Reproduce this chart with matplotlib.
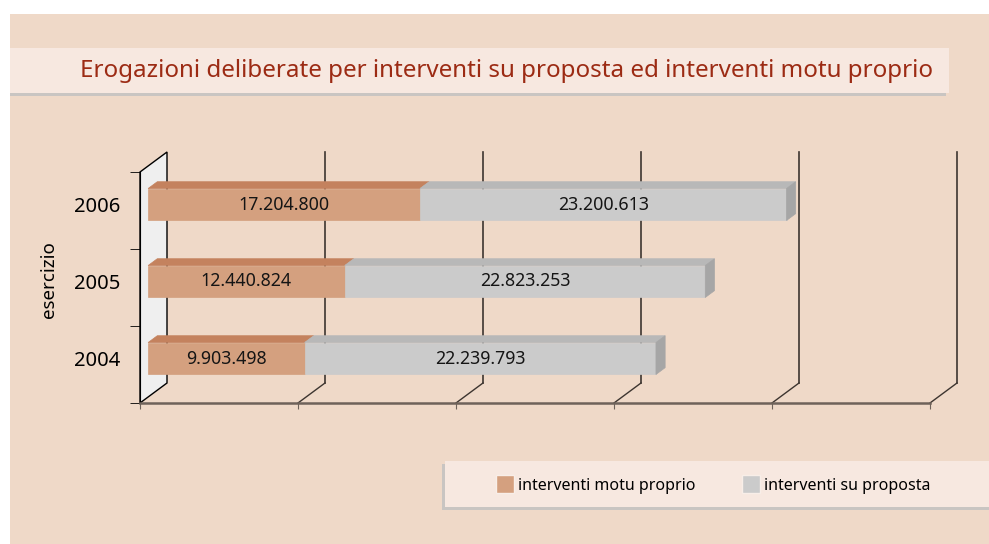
import matplotlib.pyplot as plt
from matplotlib.patches import Rectangle, Polygon

plt.rcParams['font.family'] = ['Noto Sans', 'DejaVu Sans']

# data
years = ['2004', '2005', '2006']
motu_proprio = [9903498, 12440824, 17204800]
su_proposta = [22239793, 22823253, 23200613]
series_names = ['interventi motu proprio', 'interventi su proposta']
x_ticks = [0, 10e6, 20e6, 30e6, 40e6, 50e6]

W, H = 989, 544
fig = plt.figure(figsize=(W / 100, H / 100), dpi=100)
fig.patch.set_facecolor('white')


def fx(x):
    return x / W


def fy(y):
    return 1 - y / H


def box(x0, y0, x1, y1, color, z=-10):
    fig.patches.append(Rectangle((fx(x0), fy(y1)), fx(x1) - fx(x0), fy(y0) - fy(y1),
                                 transform=fig.transFigure, facecolor=color,
                                 edgecolor='none', zorder=z))


bg = '#efd9c8'
light = '#f7e8e0'
shadow = '#c9c5c2'

box(10, 14, W, H, bg)
# title panel
box(10, 93, 946, 96, shadow)
box(10, 48, 949, 93, light)
fig.text(fx(80), fy(71), 'Erogazioni deliberate per interventi su proposta ed interventi motu proprio',
         color='#9c2b14', fontsize=17.4, ha='left', va='center')
# legend panel
box(442, 464, 445, 510, shadow)
box(442, 507, W, 510, shadow)
box(445, 461, W, 507, light)

# front plane of the 3d box
ax = fig.add_axes([fx(140), fy(403), fx(930) - fx(140), fy(172) - fy(403)])
ax.set_facecolor('none')
ax.set_xlim(0, 50e6)
ax.set_ylim(-0.5, 2.5)

dx = 27 / 790 * 50e6      # depth of the box in data units
dy = 20 / 231 * 3
f0, f1 = 0.3, 0.64        # bar front/back as fraction of depth
bh = 0.415

# left wall
ax.add_patch(Polygon([(0, -0.5), (0, 2.5), (dx, 2.5 + dy), (dx, -0.5 + dy)],
                     closed=True, facecolor='#efefef', edgecolor='black', lw=1,
                     clip_on=False, zorder=1))
# back wall grid lines and floor lines
grid_c = '#3d3530'
for t in x_ticks[1:]:
    ax.plot([t + dx, t + dx], [-0.5 + dy, 2.5 + dy], color=grid_c, lw=1.2,
            clip_on=False, zorder=1)
    ax.plot([t, t + dx], [-0.5, -0.5 + dy], color=grid_c, lw=1,
            clip_on=False, zorder=1)

# bars
pos = list(range(len(years)))
colors = [('#d4a07f', '#c4825e', '#b87552'), ('#cbcbcb', '#b8b8b8', '#a6a6a6')]
lefts = [0] * len(years)
handles = []
for vals, (cf, ct, cs), name in zip([motu_proprio, su_proposta], colors, series_names):
    yc = [p + f0 * dy for p in pos]
    h = ax.barh(yc, vals, height=bh, left=[l + f0 * dx for l in lefts],
                color=cf, edgecolor=cf, lw=0.5, label=name, zorder=3)
    handles.append(h)
    for i, v in enumerate(vals):
        a, b = lefts[i], lefts[i] + v
        top = pos[i] + bh / 2
        ax.add_patch(Polygon([(a + f0 * dx, top + f0 * dy), (b + f0 * dx, top + f0 * dy),
                              (b + f1 * dx, top + f1 * dy), (a + f1 * dx, top + f1 * dy)],
                             closed=True, facecolor=ct, edgecolor=ct, lw=0.5, zorder=4))
        ax.text(a + f0 * dx + v / 2, yc[i], f'{v:,}'.replace(',', '.'),
                ha='center', va='center', fontsize=12.8, color='#151515', zorder=6)
    lefts = [l + v for l, v in zip(lefts, vals)]

# right side faces of the stacks
cs = colors[-1][2]
for i, tot in enumerate(lefts):
    bot, top = pos[i] - bh / 2, pos[i] + bh / 2
    ax.add_patch(Polygon([(tot + f0 * dx, bot + f0 * dy), (tot + f0 * dx, top + f0 * dy),
                          (tot + f1 * dx, top + f1 * dy), (tot + f1 * dx, bot + f1 * dy)],
                         closed=True, facecolor=cs, edgecolor=cs, lw=0.5, zorder=4))

# axes styling
for s in ['top', 'right']:
    ax.spines[s].set_visible(False)
ax.spines['left'].set_color('black')
ax.spines['bottom'].set_color('#6e625a')
ax.spines['bottom'].set_linewidth(1.8)
ax.set_xticks(x_ticks)
ax.tick_params(axis='x', length=4, color='#6e625a', labelbottom=False)
ax.set_yticks([p + f0 * dy for p in pos], labels=years)
ax.set_yticks([-0.5, 0.5, 1.5, 2.5], minor=True)
ax.tick_params(axis='y', which='major', length=0, pad=14, labelsize=14.5)
ax.tick_params(axis='y', which='minor', length=7, color='black')
ax.set_ylabel('esercizio', fontsize=13.5)
ax.yaxis.set_label_coords((58 - 140) / 790, (403 - 280) / 231)

fig.legend(handles=handles, labels=series_names, loc='center left',
           bbox_to_anchor=(fx(496), fy(484.5)), ncol=2, frameon=False,
           fontsize=11.5, handlelength=1.15, handleheight=1.3, handletextpad=0.22,
           columnspacing=2.9, borderpad=0, borderaxespad=0)
for h in fig.legends[0].legend_handles:
    h.set_edgecolor('#f8eee8')
    h.set_linewidth(1)

fig.savefig('out.png', dpi=100, facecolor=fig.get_facecolor())
